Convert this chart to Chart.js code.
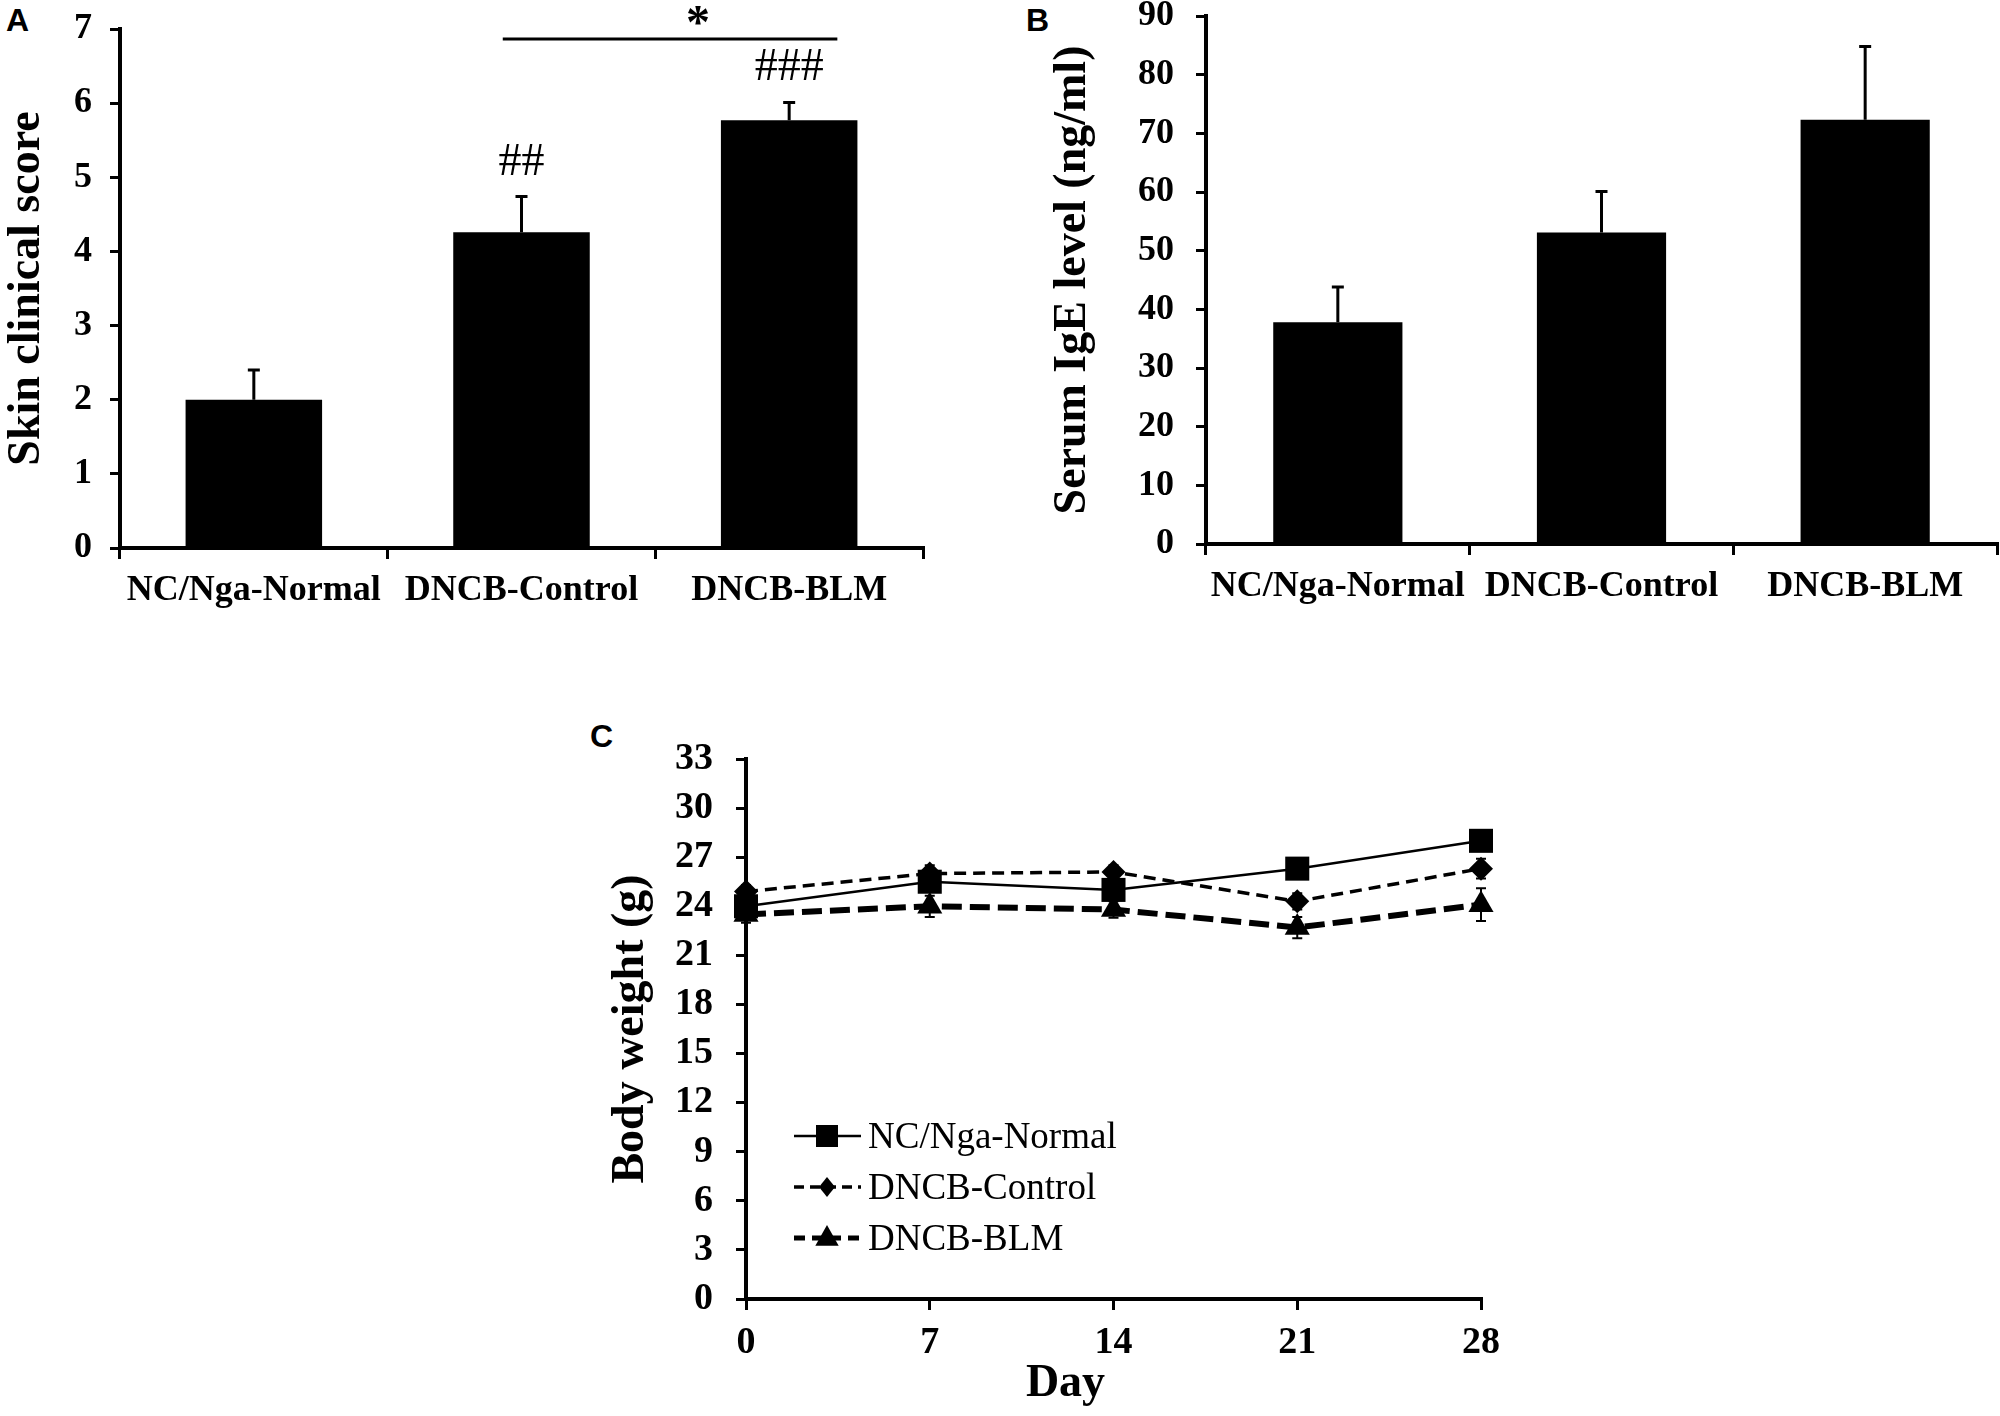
<!DOCTYPE html>
<html>
<head>
<meta charset="utf-8">
<script src="https://cdn.jsdelivr.net/npm/chart.js@4.4.1/dist/chart.umd.min.js"></script>
<style>
    html, body { margin: 0; padding: 0; background: #fff; }
    #page { position: relative; width: 2000px; height: 1416px; background: #fff; overflow: hidden; }
    canvas { position: absolute; }
    .panel { position: absolute; font-family: "Liberation Sans", Arial, sans-serif; font-weight: bold; font-size: 32px; color: #000; line-height: 1; }
</style>
</head>
<body>
<div id="page">
    <div class="panel" style="left:6px;top:4px;">A</div>
    <div class="panel" style="left:1026px;top:4px;">B</div>
    <div class="panel" style="left:590px;top:720px;">C</div>
    <canvas id="chartA" width="960" height="640" style="left:0;top:0;"></canvas>
    <canvas id="chartB" width="1000" height="640" style="left:1000px;top:0;"></canvas>
    <canvas id="chartC" width="960" height="716" style="left:580px;top:700px;"></canvas>
</div>
<script>
    'use strict';

    // panel A / B : groups
    var groups = ['NC/Nga-Normal', 'DNCB-Control', 'DNCB-BLM'];
    var skinScore = [2.0, 4.26, 5.77];
    var skinScoreErr = [0.4, 0.48, 0.24];
    var skinMarks = ['', '##', '###'];
    var igeLevel = [37.8, 53.1, 72.3];
    var igeLevelErr = [6.0, 7.0, 12.5];

    // panel C : body weight over time
    var days = [0, 7, 14, 21, 28];
    var weightNormal = [24.0, 25.5, 25.0, 26.3, 28.0];
    var weightNormalErr = [0.4, 0.4, 0.5, 0.4, 0.4];
    var weightControl = [24.9, 26.0, 26.1, 24.3, 26.3];
    var weightControlErr = [0.4, 0.5, 0.4, 0.5, 0.6];
    var weightBlm = [23.5, 24.0, 23.8, 22.7, 24.1];
    var weightBlmErr = [0.5, 0.65, 0.5, 0.65, 1.0];

    Chart.defaults.font.family = '"Liberation Serif", "Times New Roman", serif';
    Chart.defaults.color = '#000';

    var black = '#000';

    // vertical error bars, read from dataset.errorBars
    var errorBarPlugin = {
        id: 'errorBars',
        beforeDatasetsDraw: function(chart) {
            var ctx = chart.ctx;
            var yScale = chart.scales.y;
            chart.data.datasets.forEach(function(ds, di) {
                if (!ds.errorBars) return;
                var meta = chart.getDatasetMeta(di);
                ctx.save();
                ctx.strokeStyle = black;
                ctx.lineWidth = ds.errorWidth || 3;
                meta.data.forEach(function(el, i) {
                    var v = ds.data[i];
                    if (typeof v === 'object') v = v.y;
                    var e = ds.errorBars[i];
                    var yTop = yScale.getPixelForValue(v + e);
                    var yBot = ds.errorUpOnly ? yScale.getPixelForValue(v) : yScale.getPixelForValue(v - e);
                    var cap = ds.errorCap || 6;
                    ctx.beginPath();
                    ctx.moveTo(el.x, yBot);
                    ctx.lineTo(el.x, yTop);
                    ctx.moveTo(el.x - cap, yTop);
                    ctx.lineTo(el.x + cap, yTop);
                    if (!ds.errorUpOnly) {
                        ctx.moveTo(el.x - cap, yBot);
                        ctx.lineTo(el.x + cap, yBot);
                    }
                    ctx.stroke();
                });
                ctx.restore();
            });
        }
    };

    function axisCommon(opts) {
        return Object.assign({
            border: { display: true, color: black, width: 4 },
            grid: { drawOnChartArea: false, drawTicks: true, color: black, lineWidth: 3, tickLength: 11 }
        }, opts);
    }

    // fixed axis size, and no extra room asked for the end labels
    function fixedWidth(w) {
        return function(s) { s.width = w; s.paddingTop = 0; s.paddingBottom = 0; };
    }

    function barChart(canvasId, values, errors, yMax, yStep, yTitle, yWidth, titlePad, tickPad, pad, barPct, extraPlugins) {
        return new Chart(document.getElementById(canvasId), {
            type: 'bar',
            data: {
                labels: groups,
                datasets: [{
                    data: values,
                    backgroundColor: black,
                    borderWidth: 0,
                    categoryPercentage: 1,
                    barPercentage: barPct,
                    errorBars: errors,
                    errorUpOnly: true,
                    errorCap: 6,
                    errorWidth: 3
                }]
            },
            options: {
                responsive: false,
                animation: false,
                devicePixelRatio: 1,
                layout: { padding: pad },
                plugins: { legend: { display: false }, tooltip: { enabled: false } },
                scales: {
                    x: axisCommon({
                        ticks: { font: { size: 36, weight: 'bold' }, padding: 10, maxRotation: 0, autoSkip: false },
                        afterFit: function(s) { s.height = pad.xHeight; }
                    }),
                    y: axisCommon({
                        min: 0,
                        max: yMax,
                        ticks: { stepSize: yStep, font: { size: 36, weight: 'bold' }, padding: tickPad },
                        grid: { drawOnChartArea: false, drawTicks: true, color: black, lineWidth: 3, tickLength: 10 },
                        title: { display: true, text: yTitle, font: { size: 46, weight: 'bold' }, padding: { top: titlePad, bottom: 0 } },
                        afterFit: fixedWidth(yWidth)
                    })
                }
            },
            plugins: [errorBarPlugin].concat(extraPlugins || [])
        });
    }

    // ## / ### marks and the * comparison bar on panel A
    var skinMarksPlugin = {
        id: 'skinMarks',
        afterDatasetsDraw: function(chart) {
            var ctx = chart.ctx;
            var x = chart.scales.x, y = chart.scales.y;
            ctx.save();
            ctx.fillStyle = black;
            ctx.textAlign = 'center';
            ctx.textBaseline = 'middle';
            ctx.font = '46px "Liberation Serif"';
            skinMarks.forEach(function(m, i) {
                if (!m) return;
                var top = y.getPixelForValue(skinScore[i] + skinScoreErr[i]);
                ctx.fillText(m, x.getPixelForValue(i), top - 34);
            });
            var step = x.getPixelForValue(1) - x.getPixelForValue(0);
            var x1 = x.getPixelForValue(1) - 0.07 * step;
            var x2 = x.getPixelForValue(2) + 0.18 * step;
            var ly = chart.chartArea.top + 10;
            ctx.strokeStyle = black;
            ctx.lineWidth = 3;
            ctx.beginPath();
            ctx.moveTo(x1, ly);
            ctx.lineTo(x2, ly);
            ctx.stroke();
            ctx.font = 'bold 48px "Liberation Serif"';
            ctx.fillText('*', (x1 + x2) / 2 + 28, ly - 13);
            ctx.restore();
        }
    };

    var padA = { top: 29, right: 37, left: 0, bottom: 0, xHeight: 92 };
    barChart('chartA', skinScore, skinScoreErr, 7, 1, 'Skin clinical score', 120, 0, 18, padA, 0.51, [skinMarksPlugin]);

    var padB = { top: 16, right: 3, left: 0, bottom: 0, xHeight: 96 };
    barChart('chartB', igeLevel, igeLevelErr, 90, 10, 'Serum IgE level (ng/ml)', 206, 46, 22, padB, 0.49);

    // panel C
    function points(ys) {
        return days.map(function(d, i) { return { x: d, y: ys[i] }; });
    }

    function drawMarker(ctx, style, r, x, y) {
        ctx.beginPath();
        if (style === 'rect') {
            ctx.rect(x - r, y - r, 2 * r, 2 * r);
        } else if (style === 'rectRot') {
            ctx.moveTo(x, y - r);
            ctx.lineTo(x + r * 0.8, y);
            ctx.lineTo(x, y + r);
            ctx.lineTo(x - r * 0.8, y);
            ctx.closePath();
        } else {
            ctx.moveTo(x, y - r);
            ctx.lineTo(x + r * 0.9, y + r * 0.6);
            ctx.lineTo(x - r * 0.9, y + r * 0.6);
            ctx.closePath();
        }
        ctx.fill();
    }

    var weightLegendPlugin = {
        id: 'weightLegend',
        afterDraw: function(chart) {
            var ctx = chart.ctx;
            var area = chart.chartArea;
            var lx = area.left + 48;
            var ly = area.top + 377;
            ctx.save();
            ctx.fillStyle = black;
            ctx.strokeStyle = black;
            ctx.font = '37px "Liberation Serif"';
            ctx.textBaseline = 'middle';
            ctx.textAlign = 'left';
            chart.data.datasets.forEach(function(ds, i) {
                var y = ly + i * 51;
                ctx.lineWidth = ds.legendLineWidth;
                ctx.setLineDash(ds.legendDash);
                ctx.beginPath();
                ctx.moveTo(lx, y);
                ctx.lineTo(lx + 67, y);
                ctx.stroke();
                ctx.setLineDash([]);
                drawMarker(ctx, ds.pointStyle, ds.legendMarker, lx + 33, y);
                ctx.fillText(ds.label, lx + 74, y + 2);
            });

            // x axis title, set a little left of centre as in the figure
            ctx.font = 'bold 46px "Liberation Serif"';
            ctx.textAlign = 'center';
            ctx.fillText('Day', (area.left + area.right) / 2 - 48, chart.scales.x.bottom - 32);
            ctx.restore();
        }
    };

    new Chart(document.getElementById('chartC'), {
        type: 'line',
        data: {
            datasets: [
                {
                    label: 'NC/Nga-Normal',
                    data: points(weightNormal),
                    borderColor: black,
                    backgroundColor: black,
                    borderWidth: 2.5,
                    pointStyle: 'rect',
                    pointRadius: 17,
                    pointBorderWidth: 0,
                    errorBars: weightNormalErr,
                    errorCap: 5,
                    errorWidth: 2,
                    legendLineWidth: 2.5,
                    legendDash: [],
                    legendMarker: 11,
                    clip: false
                },
                {
                    label: 'DNCB-Control',
                    data: points(weightControl),
                    borderColor: black,
                    backgroundColor: black,
                    borderWidth: 3.5,
                    borderDash: [12, 7],
                    pointStyle: 'rectRot',
                    pointRadius: 12,
                    pointBorderWidth: 0,
                    errorBars: weightControlErr,
                    errorCap: 5,
                    errorWidth: 2,
                    legendLineWidth: 3.5,
                    legendDash: [10, 6],
                    legendMarker: 10,
                    clip: false
                },
                {
                    label: 'DNCB-BLM',
                    data: points(weightBlm),
                    borderColor: black,
                    backgroundColor: black,
                    borderWidth: 6,
                    borderDash: [20, 8],
                    pointStyle: 'triangle',
                    pointRadius: 14.5,
                    pointBorderWidth: 0,
                    errorBars: weightBlmErr,
                    errorCap: 5,
                    errorWidth: 2,
                    legendLineWidth: 5,
                    legendDash: [11, 7],
                    legendMarker: 13,
                    clip: false
                }
            ]
        },
        options: {
            responsive: false,
            animation: false,
            devicePixelRatio: 1,
            layout: { padding: { top: 59, right: 59, left: 0, bottom: 0 } },
            plugins: { legend: { display: false }, tooltip: { enabled: false } },
            scales: {
                x: axisCommon({
                    type: 'linear',
                    min: 0,
                    max: 28,
                    ticks: { stepSize: 7, font: { size: 38, weight: 'bold' }, padding: 10 },
                    afterFit: function(s) { s.height = 117; }
                }),
                y: axisCommon({
                    min: 0,
                    max: 33,
                    ticks: { stepSize: 3, font: { size: 38, weight: 'bold' }, padding: 23 },
                    grid: { drawOnChartArea: false, drawTicks: true, color: black, lineWidth: 3, tickLength: 10 },
                    title: { display: true, text: 'Body weight (g)', font: { size: 46, weight: 'bold' }, padding: { top: 24, bottom: 0 } },
                    afterFit: fixedWidth(166)
                })
            }
        },
        plugins: [errorBarPlugin, weightLegendPlugin]
    });
</script>
</body>
</html>
